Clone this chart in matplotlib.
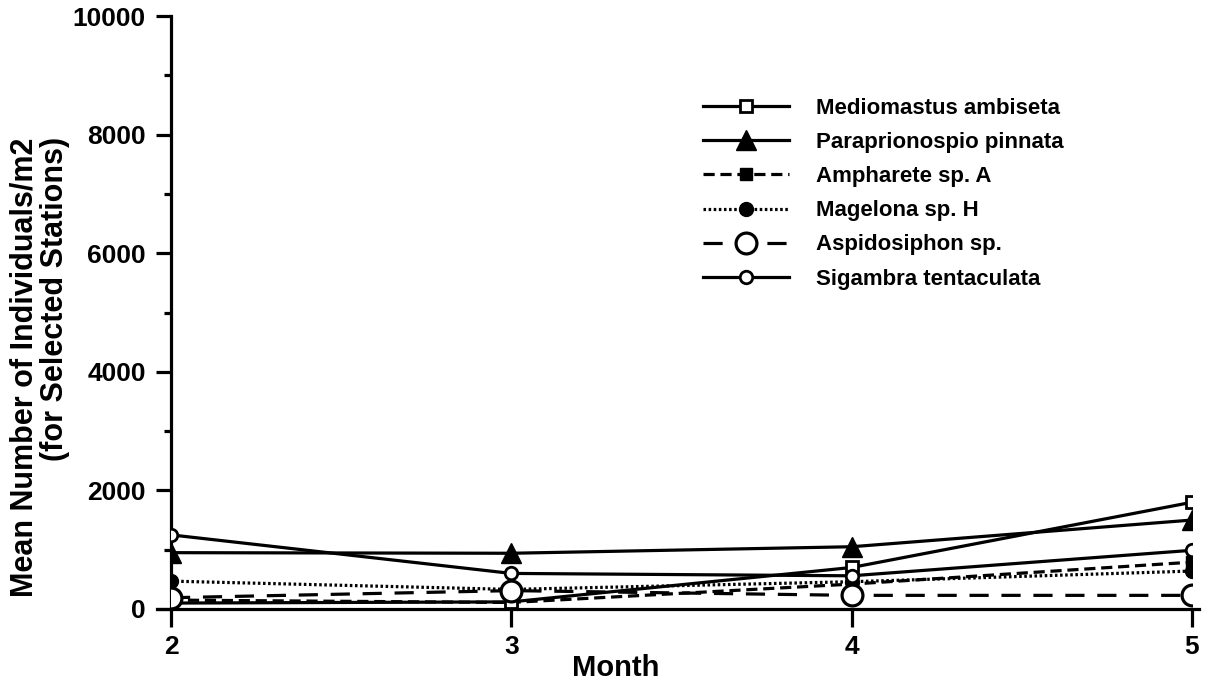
import matplotlib
matplotlib.use("Agg")
import matplotlib.pyplot as plt
from matplotlib.ticker import MultipleLocator

plt.rcParams['font.family'] = ['Liberation Sans', 'DejaVu Sans']
plt.rcParams['font.weight'] = 'bold'

months = [2, 3, 4, 5]
mediomastus = [100, 120, 700, 1800]
paraprionospio = [950, 940, 1050, 1500]
ampharete = [150, 110, 420, 790]
magelona = [470, 330, 460, 640]
aspidosiphon = [190, 310, 230, 230]
sigambra = [1250, 600, 560, 990]

labels = ["Mediomastus ambiseta", "Paraprionospio pinnata", "Ampharete sp. A",
          "Magelona sp. H", "Aspidosiphon sp.", "Sigambra tentaculata"]
xticks = [2, 3, 4, 5]
yticks = [0, 2000, 4000, 6000, 8000, 10000]

fig = plt.figure(figsize=(12.11, 6.84), dpi=100)
ax = fig.add_axes([171/1211, 1-609/684, (1192-171)/1211, (609-16)/684])

lw = 2.3
ax.plot(months, mediomastus, color='black', lw=lw, ls='-', marker='s', ms=9,
        mfc='white', mec='black', mew=2, label=labels[0], zorder=5)
ax.plot(months, paraprionospio, color='black', lw=lw, ls='-', marker='^', ms=14,
        mfc='black', mec='black', label=labels[1], zorder=5)
ax.plot(months, ampharete, color='black', lw=lw, ls=(0, (3.5, 1.8)), marker='s', ms=9,
        mfc='black', mec='black', label=labels[2], zorder=4)
ax.plot(months, magelona, color='black', lw=lw, ls=(0, (0.8, 0.8)), marker='o', ms=10,
        mfc='black', mec='black', label=labels[3], zorder=4)
ax.plot(months, aspidosiphon, color='black', lw=lw, ls=(0, (6, 4)), marker='o', ms=15,
        mfc='white', mec='black', mew=2.3, label=labels[4], zorder=6)
ax.plot(months, sigambra, color='black', lw=lw, ls='-', marker='o', ms=9,
        mfc='white', mec='black', mew=2, label=labels[5], zorder=6)

ax.set_xlim(2, 5)
ax.set_ylim(0, 10000)
ax.set_xticks(xticks)
ax.set_yticks(yticks)
ax.yaxis.set_minor_locator(MultipleLocator(1000))
ax.set_xticklabels([str(v) for v in xticks], fontsize=19, fontweight='bold')
ax.set_yticklabels([str(v) for v in yticks], fontsize=19, fontweight='bold')

for s in ['top', 'right']:
    ax.spines[s].set_visible(False)
for s in ['left', 'bottom']:
    ax.spines[s].set_linewidth(2.3)
ax.spines['bottom'].set_bounds(1.96, 5.02)
ax.tick_params(axis='y', which='major', direction='out', length=11, width=2.3, pad=7)
ax.tick_params(axis='y', which='minor', direction='out', length=5, width=2.3)
ax.tick_params(axis='x', which='major', direction='out', length=13, width=2.3, pad=6)

ax.set_xlabel("Month", fontsize=21, fontweight='bold')
ax.xaxis.set_label_coords((616-171)/1021, (609-668)/593)
ax.xaxis.label.set(va='center', ha='center')

ax.set_ylabel("Mean Number of Individuals/m2\n(for Selected Stations)", fontsize=22,
              fontweight='bold', linespacing=1.0, multialignment='right')
ax.yaxis.set_label_coords((40-171)/1021, (609-367)/593)
ax.yaxis.label.set(va='center', ha='center')

leg = ax.legend(loc='upper left', bbox_to_anchor=(703/1211, 1-98/684),
                bbox_transform=fig.transFigure, frameon=False, fontsize=16,
                handlelength=3.85, handletextpad=1.25, labelspacing=0.59,
                borderpad=0, borderaxespad=0)
for txt in leg.get_texts():
    txt.set_fontweight('bold')

fig.savefig("out.png", dpi=100)
